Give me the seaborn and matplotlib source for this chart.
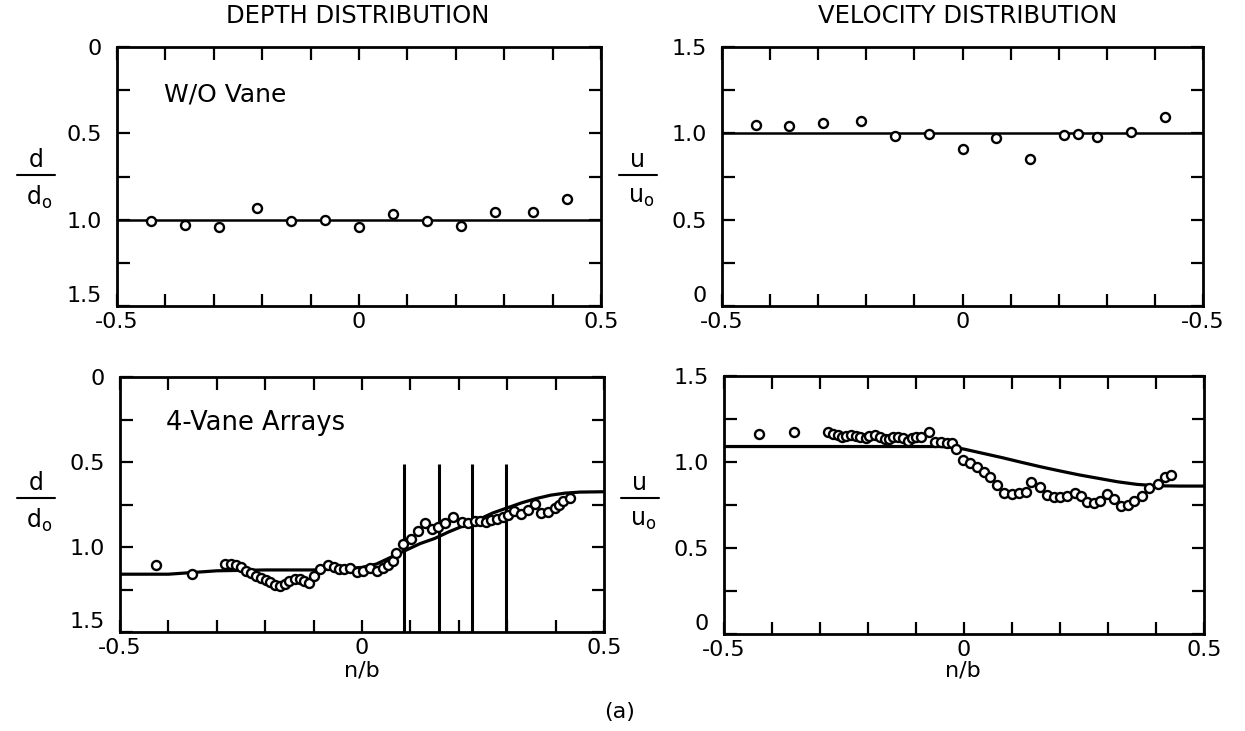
import numpy as np
import pandas as pd
import matplotlib
matplotlib.use("Agg")
import matplotlib.pyplot as plt
import seaborn as sns
from matplotlib.lines import Line2D

# ---------------- data ----------------
# Top-left: depth, without vane
tl_n = [-0.43, -0.36, -0.29, -0.21, -0.14, -0.07, 0.00, 0.07, 0.14, 0.21, 0.28, 0.36, 0.43]
tl_d = [1.005, 1.03, 1.04, 0.93, 1.01, 1.00, 1.045, 0.97, 1.005, 1.035, 0.955, 0.955, 0.88]
tl_line_n = [-0.5, 0.5]
tl_line_d = [1.0, 1.0]

# Top-right: velocity, without vane
tr_n = [-0.43, -0.36, -0.29, -0.21, -0.14, -0.07, 0.00, 0.07, 0.14, 0.21, 0.24, 0.28, 0.35, 0.42]
tr_u = [1.047, 1.041, 1.057, 1.071, 0.987, 0.999, 0.912, 0.971, 0.852, 0.989, 0.995, 0.981, 1.005, 1.097]
tr_line_n = [-0.5, 0.5]
tr_line_u = [1.0, 1.0]

# Bottom-left: depth, 4-vane arrays
bl_n = [-0.425, -0.352, -0.283, -0.271, -0.260, -0.250, -0.240, -0.230, -0.220, -0.209,
        -0.199, -0.190, -0.180, -0.170, -0.160, -0.150, -0.139, -0.129, -0.119, -0.109,
        -0.100, -0.086, -0.070, -0.058, -0.048, -0.037, -0.024, -0.011, 0.003, 0.017,
        0.030, 0.044, 0.054, 0.065, 0.071, 0.085, 0.102, 0.116, 0.130, 0.144,
        0.157, 0.171, 0.188, 0.206, 0.219, 0.233, 0.243, 0.257, 0.267, 0.278,
        0.291, 0.302, 0.315, 0.329, 0.343, 0.357, 0.370, 0.384, 0.398, 0.408,
        0.415, 0.429]
bl_d = [1.106, 1.160, 1.100, 1.100, 1.107, 1.120, 1.140, 1.155, 1.170, 1.180,
        1.195, 1.205, 1.225, 1.230, 1.220, 1.200, 1.190, 1.190, 1.200, 1.210,
        1.170, 1.130, 1.105, 1.120, 1.130, 1.130, 1.125, 1.145, 1.140, 1.126,
        1.140, 1.126, 1.106, 1.080, 1.034, 0.980, 0.954, 0.906, 0.856, 0.894,
        0.880, 0.860, 0.826, 0.854, 0.860, 0.846, 0.846, 0.854, 0.840, 0.834,
        0.826, 0.810, 0.790, 0.806, 0.780, 0.746, 0.800, 0.794, 0.770, 0.750,
        0.730, 0.710]
bl_line_n = [-0.50, -0.40, -0.30, -0.20, -0.10, -0.05, 0.00, 0.03, 0.06, 0.09, 0.12, 0.15,
             0.18, 0.21, 0.24, 0.27, 0.30, 0.33, 0.36, 0.39, 0.42, 0.45, 0.50]
bl_line_d = [1.160, 1.160, 1.140, 1.135, 1.135, 1.130, 1.120, 1.100, 1.060, 1.020, 0.980, 0.950,
             0.910, 0.875, 0.840, 0.800, 0.770, 0.740, 0.715, 0.695, 0.683, 0.677, 0.675]
vane_n = [0.087, 0.159, 0.228, 0.298]
vane_top = 0.51
vane_bottom = 1.5

# Bottom-right: velocity, 4-vane arrays
br_n = [-0.427, -0.354, -0.284, -0.273, -0.263, -0.255, -0.246, -0.235, -0.225, -0.216,
        -0.205, -0.197, -0.186, -0.176, -0.165, -0.157, -0.148, -0.137, -0.127, -0.117,
        -0.108, -0.099, -0.089, -0.073, -0.061, -0.048, -0.036, -0.025, -0.016, -0.002,
        0.013, 0.027, 0.041, 0.055, 0.068, 0.084, 0.100, 0.114, 0.130, 0.140,
        0.158, 0.172, 0.187, 0.201, 0.215, 0.231, 0.244, 0.257, 0.271, 0.284,
        0.298, 0.313, 0.327, 0.341, 0.355, 0.370, 0.386, 0.404, 0.418, 0.432]
br_u = [1.165, 1.173, 1.173, 1.165, 1.159, 1.143, 1.153, 1.159, 1.153, 1.145,
        1.139, 1.149, 1.159, 1.145, 1.133, 1.133, 1.145, 1.145, 1.139, 1.125,
        1.139, 1.145, 1.145, 1.173, 1.119, 1.119, 1.113, 1.110, 1.073, 1.014,
        0.994, 0.970, 0.940, 0.915, 0.865, 0.821, 0.812, 0.821, 0.827, 0.881,
        0.855, 0.808, 0.796, 0.796, 0.800, 0.821, 0.802, 0.768, 0.762, 0.776,
        0.812, 0.782, 0.742, 0.748, 0.772, 0.802, 0.847, 0.875, 0.915, 0.927]
br_line_n = [-0.50, -0.10, -0.05, -0.02, 0.00, 0.04, 0.08, 0.12, 0.16, 0.20, 0.24,
             0.28, 0.32, 0.36, 0.40, 0.45, 0.50]
br_line_u = [1.090, 1.090, 1.090, 1.085, 1.075, 1.050, 1.025, 0.998, 0.972, 0.948, 0.925,
             0.905, 0.885, 0.870, 0.862, 0.860, 0.860]

# ticks / labels
x_ticks = [-0.5, -0.4, -0.3, -0.2, -0.1, 0.0, 0.1, 0.2, 0.3, 0.4, 0.5]
x_labels = ['-0.5', '', '', '', '', '0', '', '', '', '', '0.5']
x_labels_tr = ['-0.5', '', '', '', '', '0', '', '', '', '', '-0.5']
y_ticks = [0.0, 0.25, 0.5, 0.75, 1.0, 1.25, 1.5]
y_labels = ['0', '', '0.5', '', '1.0', '', '1.5']

# ---------------- style ----------------
sns.set_style("ticks")
plt.rcParams['font.family'] = ['DejaVu Sans']
plt.rcParams['mathtext.fontset'] = 'dejavusans'
plt.rcParams['text.color'] = 'black'
plt.rcParams['xtick.color'] = 'black'
plt.rcParams['ytick.color'] = 'black'
plt.rcParams['xtick.labelcolor'] = 'black'
plt.rcParams['ytick.labelcolor'] = 'black'

W, H = 1245, 731
fig = plt.figure(figsize=(W / 100, H / 100), dpi=100)
fig.patch.set_facecolor('white')


def px_axes(l, t, r, b):
    return fig.add_axes([l / W, 1 - b / H, (r - l) / W, (b - t) / H])


def ftext(x, y, s, **kw):
    fig.text(x / W, 1 - y / H, s, color='black', **kw)


def style_axes(ax, xlabels, invert):
    ax.set_xlim(-0.5, 0.5)
    ax.set_ylim(0, 1.5)
    if invert:
        ax.invert_yaxis()
    ax.set_xticks(x_ticks)
    ax.set_xticklabels(xlabels)
    ax.set_yticks(y_ticks)
    ax.set_yticklabels(y_labels)
    ax.tick_params(axis='both', direction='in', top=True, right=True,
                   length=9, width=1.6, color='black', labelcolor='black', labelsize=16)
    ax.tick_params(axis='x', pad=4)
    ax.tick_params(axis='y', pad=11)
    # the label sitting at the bottom corner is lifted above its tick, as in the reference
    ylabs = ax.get_yticklabels()
    corner = ylabs[-1] if invert else ylabs[0]
    corner.set_va('bottom')
    for sp in ax.spines.values():
        sp.set_visible(True)
        sp.set_linewidth(2.0)
        sp.set_color('black')
    ax.set_xlabel('')
    ax.set_ylabel('')
    ax.set_facecolor('white')


def draw_points(ax, xs, ys):
    sns.scatterplot(x=xs, y=ys, ax=ax, marker='o', s=42, color='white',
                    edgecolor='black', linewidth=1.7, zorder=5, legend=False)


def draw_curve(ax, xs, ys, lw):
    sns.lineplot(x=xs, y=ys, ax=ax, color='black', linewidth=lw, sort=False,
                 estimator=None, zorder=3, legend=False)


# ---------------- panels ----------------
ax_tl = px_axes(117, 47, 601, 306)
draw_curve(ax_tl, tl_line_n, tl_line_d, 1.8)
draw_points(ax_tl, tl_n, tl_d)
style_axes(ax_tl, x_labels, invert=True)
ax_tl.text(0.097, 0.815, 'W/O Vane', transform=ax_tl.transAxes, fontsize=18,
           ha='left', va='center', color='black')

ax_tr = px_axes(722, 47, 1203, 306)
draw_curve(ax_tr, tr_line_n, tr_line_u, 1.8)
draw_points(ax_tr, tr_n, tr_u)
style_axes(ax_tr, x_labels_tr, invert=False)

ax_bl = px_axes(120, 377, 604, 632)
ax_bl.vlines(vane_n, vane_top, vane_bottom, color='black', linewidth=2.2, zorder=2)
draw_curve(ax_bl, bl_line_n, bl_line_d, 2.3)
draw_points(ax_bl, bl_n, bl_d)
style_axes(ax_bl, x_labels, invert=True)
ax_bl.text(0.095, 0.82, '4-Vane Arrays', transform=ax_bl.transAxes, fontsize=18.5,
           ha='left', va='center', color='black')

ax_br = px_axes(724, 376, 1204, 634)
draw_curve(ax_br, br_line_n, br_line_u, 2.3)
draw_points(ax_br, br_n, br_u)
style_axes(ax_br, x_labels, invert=False)

# ---------------- titles and labels ----------------
ftext(358, 16, 'DEPTH DISTRIBUTION', fontsize=17.5, ha='center', va='center')
ftext(968, 16, 'VELOCITY DISTRIBUTION', fontsize=17.5, ha='center', va='center')

ftext(362, 670, 'n/b', fontsize=16, ha='center', va='center')
ftext(963, 670, 'n/b', fontsize=16, ha='center', va='center')
ftext(620, 712, '(a)', fontsize=16, ha='center', va='center')


def fraction(xc, ybar, top, bot):
    ftext(xc, ybar - 15, top, fontsize=17, ha='center', va='center')
    fig.add_artist(Line2D([(xc - 19) / W, (xc + 19) / W],
                          [1 - ybar / H, 1 - ybar / H],
                          transform=fig.transFigure, color='black', linewidth=1.5))
    ftext(xc + 3, ybar + 22, bot, fontsize=17, ha='center', va='center')


fraction(36, 175, 'd', r'd$_{\mathrm{o}}$')
fraction(36, 498, 'd', r'd$_{\mathrm{o}}$')
fraction(638, 175, 'u', r'u$_{\mathrm{o}}$')
fraction(640, 498, 'u', r'u$_{\mathrm{o}}$')

fig.savefig('out.png', dpi=100, facecolor='white')
